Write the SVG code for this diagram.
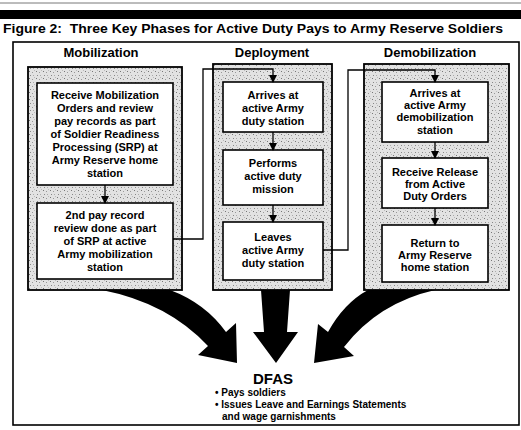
<svg xmlns="http://www.w3.org/2000/svg" width="521" height="430" viewBox="0 0 521 430">
<style>
text{font-family:"Liberation Sans",Arial,sans-serif;font-weight:bold;fill:#000}
.t{font-size:11px;text-anchor:middle}
.h{font-size:13px;text-anchor:middle}
.panel{fill:url(#stip);stroke:#000;stroke-width:1.8}
.box{fill:#fff;stroke:#000;stroke-width:1.6}
.conn{fill:none;stroke:#000;stroke-width:1.3}
.big{fill:#000}
</style>
<defs>
<pattern id="stip" width="7" height="7" patternUnits="userSpaceOnUse">
<rect width="7" height="7" fill="#e2e2e2"/>
<rect x="1" y="1" width="1" height="1" fill="#777"/>
<rect x="4" y="2" width="1" height="1" fill="#999"/>
<rect x="2" y="5" width="1" height="1" fill="#888"/>
<rect x="5" y="5" width="1" height="1" fill="#aaa"/>
<rect x="6" y="0" width="1" height="1" fill="#bbb"/>
</pattern>
<marker id="ah" markerWidth="8" markerHeight="8" refX="7" refY="4" orient="auto" markerUnits="userSpaceOnUse">
<path d="M0,0 L8,4 L0,8 Z" fill="#000"/>
</marker>
</defs>
<rect width="521" height="430" fill="#fff"/>
<line x1="0" y1="3" x2="521" y2="3" stroke="#555" stroke-width="0.8"/>
<rect x="0" y="10" width="521" height="9" fill="#000"/>
<text x="3" y="33" style="font-size:13px;white-space:pre" textLength="500" lengthAdjust="spacingAndGlyphs">Figure 2:  Three Key Phases for Active Duty Pays to Army Reserve Soldiers</text>
<rect x="13" y="42" width="506" height="383" fill="none" stroke="#000" stroke-width="1.6"/>

<g id="mobilization">
<text class="h" x="101" y="57">Mobilization</text>
<rect class="panel" x="28" y="67" width="154" height="223"/>
</g>
<g id="mob1">
<rect class="box" x="37" y="83" width="136" height="102"/>
<text class="t" x="105" y="99">Receive Mobilization</text>
<text class="t" x="105" y="112">Orders and review</text>
<text class="t" x="105" y="125">pay records as part</text>
<text class="t" x="105" y="138">of Soldier Readiness</text>
<text class="t" x="105" y="151">Processing (SRP) at</text>
<text class="t" x="105" y="164">Army Reserve home</text>
<text class="t" x="105" y="177">station</text>
</g>
<g id="mob2">
<rect class="box" x="37" y="203" width="136" height="76"/>
<text class="t" x="105" y="219">2nd pay record</text>
<text class="t" x="105" y="232">review done as part</text>
<text class="t" x="105" y="245">of SRP at active</text>
<text class="t" x="105" y="258">Army mobilization</text>
<text class="t" x="105" y="271">station</text>
</g>

<g id="deployment">
<text class="h" x="272" y="57">Deployment</text>
<rect class="panel" x="213" y="64" width="119" height="226"/>
</g>
<g id="dep1">
<rect class="box" x="223" y="82" width="100" height="50"/>
<text class="t" x="273" y="99">Arrives at</text>
<text class="t" x="273" y="112">active Army</text>
<text class="t" x="273" y="125">duty station</text>
</g>
<g id="dep2">
<rect class="box" x="223" y="150" width="100" height="55"/>
<text class="t" x="273" y="167">Performs</text>
<text class="t" x="273" y="180">active duty</text>
<text class="t" x="273" y="193">mission</text>
</g>
<g id="dep3">
<rect class="box" x="223" y="222" width="100" height="58"/>
<text class="t" x="273" y="241">Leaves</text>
<text class="t" x="273" y="254">active Army</text>
<text class="t" x="273" y="267">duty station</text>
</g>

<g id="demobilization">
<text class="h" x="430" y="57">Demobilization</text>
<rect class="panel" x="364" y="64" width="145" height="226"/>
</g>
<g id="dem1">
<rect class="box" x="382" y="82" width="106" height="60"/>
<text class="t" x="435" y="97">Arrives at</text>
<text class="t" x="435" y="109">active Army</text>
<text class="t" x="435" y="121">demobilization</text>
<text class="t" x="435" y="134">station</text>
</g>
<g id="dem2">
<rect class="box" x="382" y="158" width="106" height="50"/>
<text class="t" x="435" y="176">Receive Release</text>
<text class="t" x="435" y="188">from Active</text>
<text class="t" x="435" y="200">Duty Orders</text>
</g>
<g id="dem3">
<rect class="box" x="382" y="225" width="106" height="57"/>
<text class="t" x="435" y="247">Return to</text>
<text class="t" x="435" y="259">Army Reserve</text>
<text class="t" x="435" y="271">home station</text>
</g>

<g id="dfas">
<text x="273" y="384" style="font-size:15px;text-anchor:middle">DFAS</text>
<text x="215" y="396" style="font-size:10px">• Pays soldiers</text>
<text x="215" y="408" style="font-size:10px">• Issues Leave and Earnings Statements</text>
<text x="222" y="420" style="font-size:10px">and wage garnishments</text>
</g>

<g id="connectors">
<line class="conn" x1="105" y1="185" x2="105" y2="203" marker-end="url(#ah)"/>
<line class="conn" x1="273" y1="132" x2="273" y2="150" marker-end="url(#ah)"/>
<line class="conn" x1="273" y1="205" x2="273" y2="222" marker-end="url(#ah)"/>
<line class="conn" x1="435" y1="142" x2="435" y2="158" marker-end="url(#ah)"/>
<line class="conn" x1="435" y1="208" x2="435" y2="225" marker-end="url(#ah)"/>
<polyline class="conn" points="173,239 203,239 203,69 273,69 273,82" marker-end="url(#ah)"/>
<polyline class="conn" points="323,250 348,250 348,70 435,70 435,82" marker-end="url(#ah)"/>
<path class="big" d="M102,290 L170,290 Q205,303 226,332 L236,323 L237,363 L198,355 L208,346 Q168,303 102,290 Z"/>
<path class="big" d="M261,290 L290,290 L287,332 L298,332 L276,363 L253,332 L264,332 Z"/>
<path class="big" d="M435,290 L368,290 Q344,303 328,332 L318,324 L314,363 L354,356 L344,347 Q378,303 435,290 Z"/>
</g>
</svg>
